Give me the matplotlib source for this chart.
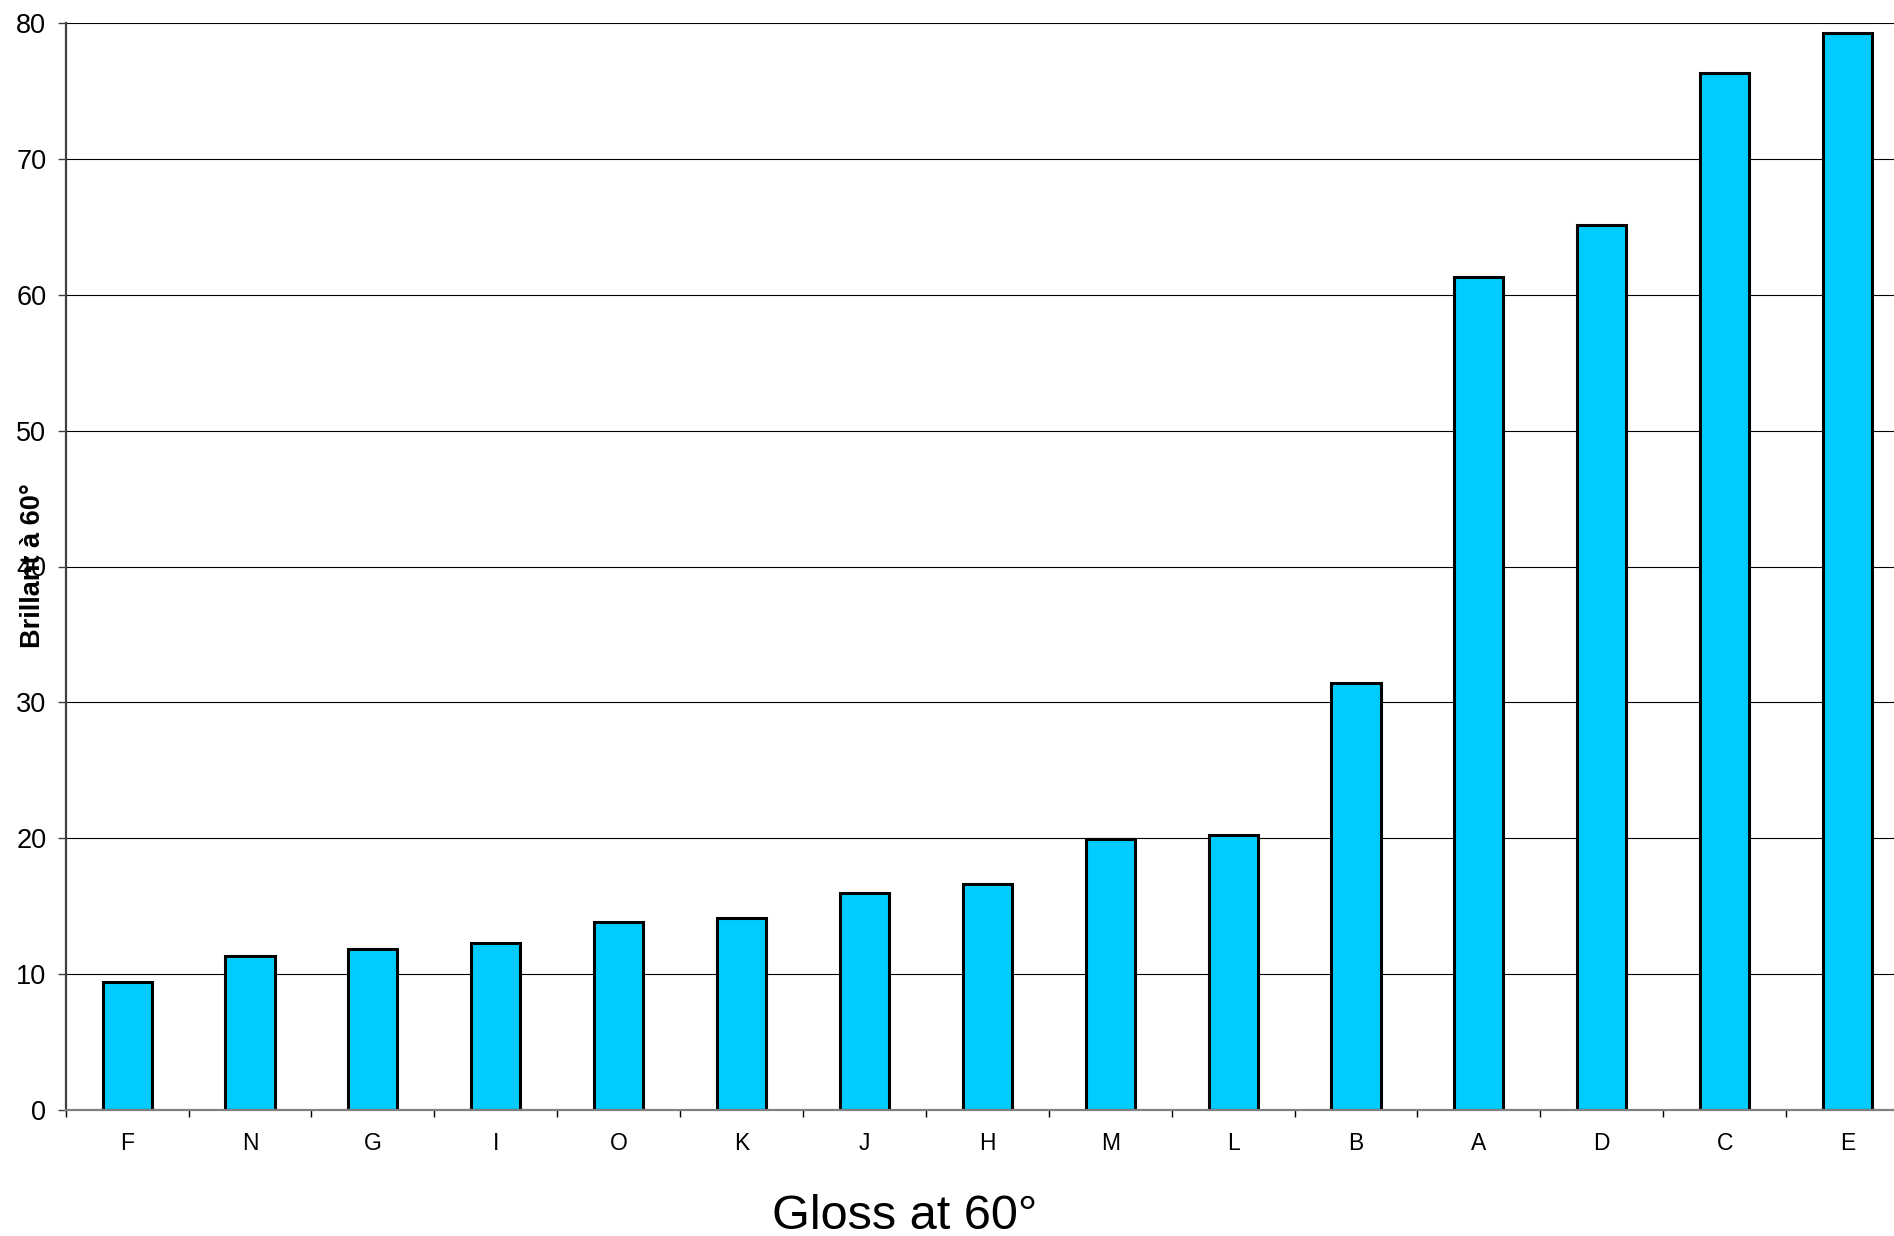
import matplotlib
matplotlib.use("Agg")
import matplotlib.pyplot as plt
from matplotlib.ticker import MultipleLocator, FixedLocator

plt.rcParams['font.family'] = ['Liberation Sans', 'DejaVu Sans']

# Gloss measured at 60° for each sample, sorted ascending
samples = ["F", "N", "G", "I", "O", "K", "J", "H", "M", "L", "B", "A", "D", "C", "E"]
gloss = [9.4, 11.3, 11.85, 12.3, 13.8, 14.1, 15.95, 16.6, 19.95, 20.25, 31.4, 61.3, 65.1, 76.3, 79.3]

W, H = 1894, 1236
fig = plt.figure(figsize=(W / 100, H / 100), dpi=100)
left_px, right_px, top_px, bottom_px = 65.7, 1909, 23, 1110
ax = fig.add_axes([left_px / W, 1 - bottom_px / H,
                   (right_px - left_px) / W, (bottom_px - top_px) / H])

x = list(range(len(samples)))
ax.bar(x, gloss, width=0.4, color="#00CCFF", edgecolor="black", linewidth=2.2, zorder=3)

ax.set_xlim(-0.5, len(samples) - 0.5)
ax.set_ylim(0, 80)
ax.yaxis.set_major_locator(MultipleLocator(10))
ax.grid(axis="y", color="black", linewidth=0.8, zorder=0)
ax.set_axisbelow(True)

for side in ("top", "right"):
    ax.spines[side].set_visible(False)
ax.spines["left"].set_color("#404040")
ax.spines["left"].set_linewidth(1.6)
ax.spines["bottom"].set_color("#808080")
ax.spines["bottom"].set_linewidth(1.6)
ax.spines["bottom"].set_zorder(4)

ax.set_xticks(x)
ax.set_xticklabels(samples, fontsize=16.5)
ax.tick_params(axis="x", which="major", length=0, pad=16)
ax.xaxis.set_minor_locator(FixedLocator([i - 0.5 for i in range(len(samples) + 1)]))
ax.tick_params(axis="x", which="minor", length=5, width=1.0, color="black", direction="out")

ax.tick_params(axis="y", which="major", length=6, width=1.0, color="#404040", pad=8,
               labelsize=19.5)

fig.text(33 / W, 1 - 566 / H, "Brillant à 60°", rotation=90, ha="center", va="center",
         fontsize=19.5, fontweight="bold")
fig.text(905 / W, 1 - 1229 / H, "Gloss at 60°", ha="center", va="baseline", fontsize=35)

fig.savefig("out.png", dpi=100, facecolor="white")
